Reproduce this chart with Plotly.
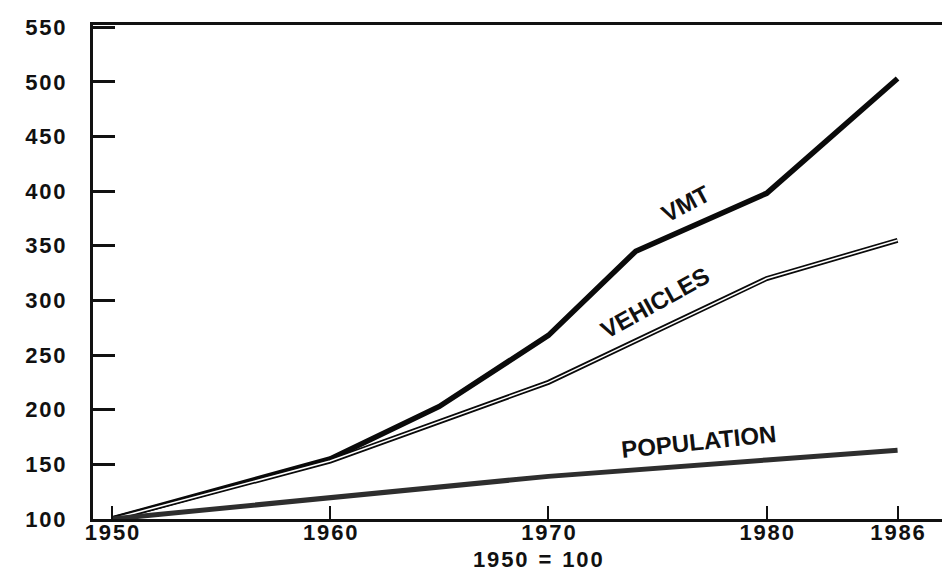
import plotly.graph_objects as go

# ---- data (index, 1950 = 100) ----
vmt_years = [1950, 1960, 1965, 1970, 1974, 1980, 1986]
vmt_values = [100, 155, 203, 268, 345, 398, 503]

veh_years = [1950, 1960, 1970, 1980, 1986]
veh_values = [100, 153, 225, 320, 355]

pop_years = [1950, 1960, 1970, 1980, 1986]
pop_values = [100, 120, 139, 154, 163]

x_ticks = [1950, 1960, 1970, 1980, 1986]
y_ticks = [100, 150, 200, 250, 300, 350, 400, 450, 500, 550]

series_labels = ["VMT", "VEHICLES", "POPULATION"]
base_note = ["1950", "=", "100"]


def spaced(s):
    return "\u200a".join(str(s))


FONT = "Liberation Sans, Arial, Helvetica, sans-serif"
Y_TICK_FONT = dict(family=FONT, size=22, color="#111", weight="bold")
X_TICK_FONT = dict(family=FONT, size=22, color="#111", weight="bold")

fig = go.Figure()

# VMT: heavy solid line
fig.add_trace(go.Scatter(x=vmt_years, y=vmt_values, mode="lines",
                         line=dict(color="#0a0a0a", width=5.5),
                         hoverinfo="skip", showlegend=False))
# Vehicles: double (outlined) line
fig.add_trace(go.Scatter(x=veh_years, y=veh_values, mode="lines",
                         line=dict(color="#0a0a0a", width=5),
                         hoverinfo="skip", showlegend=False))
fig.add_trace(go.Scatter(x=veh_years, y=veh_values, mode="lines",
                         line=dict(color="white", width=1.6),
                         hoverinfo="skip", showlegend=False))
# Population: heavy grey-black line
fig.add_trace(go.Scatter(x=pop_years, y=pop_values, mode="lines",
                         line=dict(color="#2e2e2e", width=5),
                         hoverinfo="skip", showlegend=False))

label_font = dict(family=FONT, size=24, color="#111", weight="bold")
fig.add_annotation(x=1976.3, y=389, text=series_labels[0], showarrow=False,
                   textangle=-28, font=label_font)
fig.add_annotation(x=1974.9, y=298, text=series_labels[1], showarrow=False,
                   textangle=-29, font=label_font)
fig.add_annotation(x=1976.9, y=171, text=series_labels[2], showarrow=False,
                   textangle=-6, font=label_font)
fig.add_annotation(x=1969.5, xref="x", y=-0.109, yref="paper", yanchor="bottom",
                   text=spaced(base_note[0]) + "\u2002" + base_note[1] + "\u2002" + spaced(base_note[2]),
                   showarrow=False, borderpad=0, font=X_TICK_FONT)

fig.update_xaxes(range=[1949.13, 1988.54], tickvals=x_ticks,
                 ticktext=[spaced(t) for t in x_ticks],
                 ticks="inside", ticklen=13, tickwidth=2, tickcolor="#111",
                 showline=True, linewidth=3, linecolor="#111", mirror=True,
                 showgrid=False, zeroline=False, ticklabelstandoff=-8,
                 tickfont=X_TICK_FONT)
fig.update_yaxes(range=[100, 552], tickvals=y_ticks,
                 ticktext=[spaced(t) for t in y_ticks],
                 ticks="inside", ticklen=22, tickwidth=2.5, tickcolor="#111",
                 showline=True, linewidth=3, linecolor="#111", mirror=True,
                 showgrid=False, zeroline=False, ticklabelstandoff=20,
                 tickfont=Y_TICK_FONT)

fig.update_layout(width=950, height=572,
                  margin=dict(l=85, r=2, t=17, b=61),
                  paper_bgcolor="white", plot_bgcolor="white",
                  showlegend=False)

fig.write_html("out.html")
